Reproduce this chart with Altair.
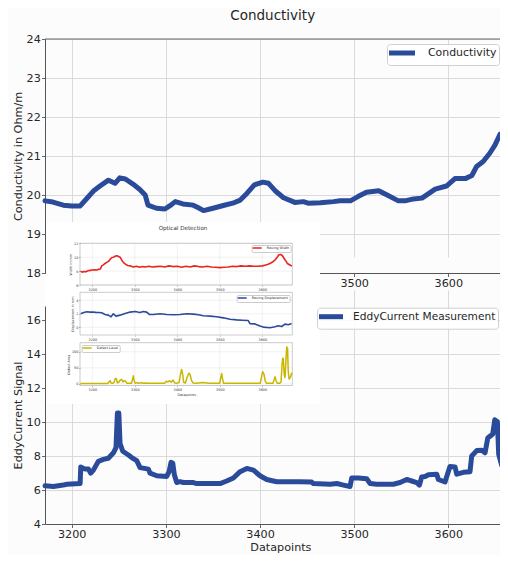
import altair as alt
import pandas as pd

# ---------------- data ----------------
cond_x = [3171.6, 3180, 3191, 3200, 3209, 3216, 3223, 3230, 3239, 3246, 3251, 3257, 3265, 3272, 3278,
          3281, 3290, 3299, 3304, 3310, 3318, 3329, 3334, 3340, 3350, 3361, 3371, 3379, 3386, 3394,
          3403, 3409, 3416, 3425, 3437, 3446, 3451, 3464, 3478, 3485, 3496, 3504, 3513, 3526, 3535,
          3547, 3554, 3563, 3572, 3586, 3598, 3607, 3618, 3625, 3630, 3637, 3644, 3649.5, 3655, 3659, 3663.4]
cond_y = [19.85, 19.82, 19.74, 19.72, 19.72, 19.91, 20.1, 20.23, 20.38, 20.3, 20.44, 20.41, 20.28, 20.15, 20.0,
          19.74, 19.66, 19.64, 19.72, 19.83, 19.77, 19.74, 19.68, 19.6, 19.66, 19.73, 19.79, 19.87, 20.04, 20.26,
          20.33, 20.3, 20.11, 19.93, 19.81, 19.83, 19.79, 19.8, 19.83, 19.85, 19.85, 19.96, 20.07, 20.11, 20.0,
          19.85, 19.85, 19.9, 19.92, 20.15, 20.23, 20.42, 20.42, 20.5, 20.73, 20.86, 21.07, 21.28, 21.56, 21.5, 21.37]

eddy_x = [3171.7, 3180.5, 3191, 3194.7, 3208.9, 3209.6, 3214.2, 3217.7, 3220.2, 3223, 3228.3, 3233.6, 3238.9,
          3244.3, 3247, 3248.5, 3250, 3251.3, 3254.2, 3260.2, 3263.7, 3269, 3272.6, 3281.4, 3283.2, 3290.3,
          3300.9, 3303.4, 3305.5, 3307.3, 3309, 3311.5, 3315, 3318.6, 3329.2, 3332.8, 3357.5, 3364.6, 3371.7,
          3378.8, 3385.9, 3393, 3400, 3407.1, 3417.7, 3431.9, 3442.5, 3454.9, 3456.7, 3474.4, 3481.5, 3488.6,
          3495.6, 3497.4, 3504.5, 3513.3, 3516.9, 3524, 3541.6, 3548.7, 3555.8, 3561.1, 3566.4, 3569.3, 3571.7,
          3575.3, 3578.8, 3587.7, 3589.4, 3596.5, 3598.3, 3601.8, 3607.1, 3608.9, 3616, 3623, 3624.8, 3630.2,
          3635.5, 3639, 3641.9, 3647.2, 3649.3, 3652.1, 3653.5, 3656.7, 3663.4]
eddy_y = [6.25, 6.21, 6.29, 6.34, 6.38, 7.36, 7.23, 7.23, 6.99, 7.17, 7.69, 7.8, 7.87,
          8.19, 8.5, 10.53, 10.53, 8.74, 8.28, 8.06, 7.91, 7.73, 7.32, 7.23, 6.99, 6.84,
          6.8, 7.08, 7.63, 7.58, 6.9, 6.44, 6.49, 6.44, 6.44, 6.38, 6.38, 6.53, 6.71,
          7.08, 7.27, 7.17, 6.84, 6.62, 6.49, 6.49, 6.49, 6.47, 6.38, 6.34, 6.38, 6.29,
          6.21, 6.71, 6.71, 6.66, 6.38, 6.34, 6.34, 6.44, 6.62, 6.53, 6.44, 6.29, 6.77,
          6.8, 6.9, 6.93, 6.62, 6.47, 6.8, 7.39, 7.36, 6.93, 7.04, 7.08, 8.0, 8.32,
          8.34, 8.19, 9.06, 9.3, 10.13, 10.03, 8.1, 7.45, 7.39]

width_x = [3172, 3176, 3180, 3185, 3190, 3195, 3200, 3205, 3210, 3215, 3219, 3222, 3226, 3230, 3234, 3238,
           3242, 3246, 3250, 3254, 3258, 3262, 3266, 3270, 3274, 3278, 3283, 3290, 3297, 3304, 3311, 3318,
           3325, 3333, 3341, 3350, 3360, 3370, 3380, 3390, 3400, 3410, 3420, 3430, 3440, 3450, 3460, 3470,
           3480, 3490, 3500, 3510, 3520, 3530, 3540, 3550, 3560, 3570, 3580, 3590, 3600, 3606, 3612, 3618,
           3624, 3630, 3635, 3639, 3643, 3647, 3651, 3655, 3659, 3663, 3667, 3670]
width_y = [8.0, 7.85, 7.95, 7.9, 8.05, 8.1, 8.15, 8.2, 8.15, 8.25, 8.3, 8.75, 8.9, 9.1, 9.25, 9.4,
           9.7, 9.95, 10.0, 10.15, 10.2, 10.1, 9.95, 9.5, 9.2, 9.0, 8.8, 8.75, 8.6, 8.7, 8.55, 8.65,
           8.6, 8.7, 8.6, 8.65, 8.7, 8.6, 8.75, 8.65, 8.7, 8.55, 8.7, 8.6, 8.75, 8.65, 8.6, 8.7,
           8.6, 8.55, 8.5, 8.55, 8.6, 8.7, 8.65, 8.75, 8.7, 8.75, 8.7, 8.7, 8.75, 8.85, 8.95, 9.1,
           9.3, 9.6, 10.0, 10.35, 10.4, 10.25, 9.85, 9.5, 9.1, 8.95, 8.8, 8.75]

disp_x = [3172.6, 3180, 3186.8, 3195, 3203, 3210.3, 3216, 3222, 3229.9, 3237.7, 3244, 3249.5, 3255.8, 3265.2,
          3277, 3288.7, 3300.5, 3312.2, 3320, 3327.9, 3334.2, 3343.6, 3359.3, 3375, 3390.7, 3406.3, 3422,
          3437.6, 3450, 3461.2, 3477, 3492.6, 3508.2, 3523.9, 3539.6, 3553, 3567, 3571, 3582.7, 3594.5,
          3602.3, 3618, 3629.8, 3637.6, 3645.5, 3653.3, 3661.2, 3669]
disp_y = [2.0, 2.2, 2.3, 2.25, 2.25, 2.2, 2.2, 2.15, 1.9, 1.8, 1.55, 2.0, 1.65, 1.8,
          2.05, 2.25, 2.35, 2.2, 2.35, 2.25, 1.9, 1.9, 2.0, 1.9, 1.85, 1.9, 2.0,
          1.95, 1.85, 1.7, 1.65, 1.55, 1.4, 1.2, 1.1, 1.05, 1.0, 0.55, 0.5, 0.2,
          0.03, -0.07, 0.08, 0.22, 0.12, 0.47, 0.37, 0.55]

defect_x = [3172, 3200, 3236, 3239, 3241.6, 3244, 3248, 3251, 3254, 3256.5, 3259, 3262, 3266, 3269, 3272,
            3275, 3278, 3281, 3292, 3294.5, 3296.5, 3298.5, 3301, 3306, 3309, 3315, 3318, 3326, 3330, 3345,
            3370, 3374, 3378, 3382, 3386, 3390, 3394, 3398, 3404, 3407.5, 3410, 3412.5, 3415, 3419, 3423,
            3427, 3430, 3433, 3437, 3445, 3460, 3475, 3500, 3502, 3504.4, 3506.5, 3509, 3540, 3570, 3595,
            3598, 3601, 3604, 3607, 3610, 3625, 3627.5, 3630, 3632.5, 3635, 3640, 3644, 3646.5, 3648,
            3649.5, 3651.5, 3653.5, 3655.5, 3657.5, 3659.5, 3661, 3663, 3666, 3669, 3670.6]
defect_y = [1, 1, 1, 6, 10, 3, 2, 4, 17, 16, 3, 5, 12, 14, 6,
            10, 9, 2, 2, 12, 25, 10, 2, 4, 2, 4, 2, 3, 2, 2,
            2, 8, 6, 10, 5, 12, 3, 2, 4, 30, 45, 30, 5, 3, 20,
            33, 30, 12, 3, 2, 4, 2, 2, 18, 32, 15, 2, 2, 2, 2,
            20, 38, 30, 8, 2, 2, 12, 22, 10, 2, 2, 5, 60, 80,
            78, 30, 20, 70, 115, 110, 40, 15, 20, 33, 30]

x_ticks = [3200, 3300, 3400, 3500, 3600]
cond_ticks = [18, 19, 20, 21, 22, 23, 24]
eddy_ticks = [4, 6, 8, 10, 12, 14, 16]
width_ticks = [6, 8, 10, 12]
disp_ticks = [0, 2, 4]
defect_ticks = [0, 50, 100]

# ---------------- layout / style ----------------
FONT = "DejaVu Sans"
BLUE = "#2a4b9a"
RED = "#e8251e"
YELLOW = "#c9b600"
TXT = "#262626"

LEFT, TOP = 45, 39          # page position of the plot-area origin
W = 455                     # plot area reaches the right edge of the page
BOTTOM = 524                # page y of the lower x axis
H = BOTTOM - TOP
PX_PER_X = 0.9415


def gx(px):
    return px - LEFT


def gy(py):
    return py - TOP


X_DOM = [3171.6, 3171.6 + W / PX_PER_X]
main_x = alt.Scale(domain=X_DOM, range=[0, W], nice=False, zero=False)
top_y = alt.Scale(domain=[18, 24], range=[gy(273), gy(39)], nice=False, zero=False)
bot_y = alt.Scale(domain=[4, 16.83], range=[gy(BOTTOM), gy(306)], nice=False, zero=False)

IX_DOM = [3171, 3670.6]
inset_x = alt.Scale(domain=IX_DOM, range=[gx(80), gx(292.3)], nice=False, zero=False)


def main_axis(orient, offset, values, title, **kw):
    return alt.Axis(orient=orient, offset=offset, values=values, title=title, grid=True, format="d",
                    gridColor="#d6d6d6", gridWidth=0.9, domainColor="#555", domainWidth=1,
                    tickColor="#555", tickSize=3.5, tickWidth=0.9, labelFont=FONT,
                    labelFontSize=11.2, labelColor=TXT, labelPadding=1.2, labelFlush=False,
                    titleFont=FONT, titleFontSize=11.2, titleColor=TXT, titleFontWeight="normal",
                    **kw)


def inset_axis(orient, offset, values, title):
    kw = dict(orient=orient, offset=offset, values=values, grid=False, domain=False, format="d",
              tickColor="#555", tickSize=1.3, tickWidth=0.4, labelFont=FONT, labelFontSize=3.4,
              labelColor="#333", labelPadding=0.8, labelFlush=False, zindex=1)
    if title is None:
        kw["title"] = None
    else:
        kw.update(title=title, titleFont=FONT, titleFontSize=3.4, titleColor="#333",
                  titleFontWeight="normal", titlePadding=1.2)
    return alt.Axis(**kw)


def legend(x, y, length, height, gap, pad, font_size, stroke_w, radius, fill, stroke):
    sq = height - stroke_w
    k = length / sq
    return alt.Legend(orient="none", legendX=x, legendY=y, title=None,
                      symbolType=f"M-{k:.3f},0H{k:.3f}", symbolSize=sq * sq,
                      symbolOffset=length / 2 - height / 2, symbolStrokeWidth=stroke_w,
                      labelOffset=length + gap - height, labelFont=FONT, labelFontSize=font_size,
                      labelColor=TXT, padding=pad, fillColor=fill, strokeColor=stroke,
                      cornerRadius=radius)


blank = alt.Data(values=[{}])
layers = []

# ---------------- main panels ----------------
cond_df = pd.DataFrame({"x": cond_x, "y": cond_y, "s": "Conductivity"})
layers.append(alt.Chart(cond_df).mark_line(strokeWidth=5, strokeJoin="round", strokeCap="round").encode(
    x=alt.X("x:Q", scale=main_x,
            axis=main_axis("bottom", gy(273) - H, x_ticks, None,
                           labelExpr="datum.value > 3450 ? datum.label : ''")),
    y=alt.Y("y:Q", scale=top_y, axis=main_axis("left", 0, cond_ticks, "Conductivity in Ohm/m",
                                                titlePadding=3)),
    color=alt.Color("s:N", scale=alt.Scale(domain=["Conductivity"], range=[BLUE]),
                    legend=legend(gx(387), gy(44), 26, 14, 7, 2, 10.9, 5, 3,
                                  "rgba(255,255,255,0.85)", "#d0d0d0")),
))
layers.append(alt.Chart(blank).mark_rule(color="#666", strokeWidth=1).encode(
    x=alt.XDatum(X_DOM[0], type="quantitative", scale=main_x, axis=None),
    x2=alt.X2Datum(X_DOM[1]),
    y=alt.YDatum(24, type="quantitative", scale=top_y, axis=None),
))

eddy_df = pd.DataFrame({"x": eddy_x, "y": eddy_y, "s": "EddyCurrent Measurement"})
layers.append(alt.Chart(eddy_df).mark_line(strokeWidth=5, strokeJoin="round", strokeCap="round").encode(
    x=alt.X("x:Q", scale=main_x, axis=main_axis("bottom", 0, x_ticks, "Datapoints",
                                                titlePadding=1.5, titleX=235.4)),
    y=alt.Y("y:Q", scale=bot_y, axis=main_axis("left", 0, eddy_ticks, "EddyCurrent Signal",
                                               titlePadding=3)),
    color=alt.Color("s:N", scale=alt.Scale(domain=["EddyCurrent Measurement"], range=[BLUE]),
                    legend=legend(gx(317), gy(307.7), 24, 14, 5, 2, 10.6, 5, 3,
                                  "rgba(255,255,255,0.85)", "#d0d0d0")),
))

# chart title
layers.append(alt.Chart(alt.Data(values=[{"t": "Conductivity"}])).mark_text(
    font=FONT, fontSize=13.5, color=TXT, align="center", baseline="middle").encode(
    text="t:N", x=alt.value(gx(272.7)), y=alt.value(gy(16))))

# ---------------- inset "Optical Detection" ----------------
layers.append(alt.Chart(blank).mark_rect(fill="#ffffff").encode(
    x=alt.value(gx(46)), x2=alt.value(gx(320)), y=alt.value(gy(222)), y2=alt.value(gy(404))))

layers.append(alt.Chart(alt.Data(values=[{"t": "Optical Detection"}])).mark_text(
    font=FONT, fontSize=5.6, color="#333", align="center", baseline="middle").encode(
    text="t:N", x=alt.value(gx(183)), y=alt.value(gy(227.7))))


def inset(xs, ys, name, color, ydom, yrange_px, yticks, ytitle, leg_pos, leg_len, xtitle=None, sw=1.6):
    ysc = alt.Scale(domain=ydom, range=[gy(yrange_px[0]), gy(yrange_px[1])], nice=False, zero=False)
    df = pd.DataFrame({"x": xs, "y": ys, "s": name})
    vgrid = alt.Chart(pd.DataFrame({"v": x_ticks})).mark_rule(color="#e3e3e3", strokeWidth=0.5).encode(
        x=alt.X("v:Q", scale=inset_x, axis=None),
        y=alt.YDatum(ydom[0], type="quantitative", scale=ysc, axis=None),
        y2=alt.Y2Datum(ydom[1]))
    hgrid = alt.Chart(pd.DataFrame({"h": yticks})).mark_rule(color="#e3e3e3", strokeWidth=0.5).encode(
        y=alt.Y("h:Q", scale=ysc, axis=None),
        x=alt.XDatum(IX_DOM[0], type="quantitative", scale=inset_x, axis=None),
        x2=alt.X2Datum(IX_DOM[1]))
    line = alt.Chart(df).mark_line(strokeWidth=sw, strokeJoin="round").encode(
        x=alt.X("x:Q", scale=inset_x, axis=inset_axis("bottom", gy(yrange_px[0]) - H, x_ticks, xtitle)),
        y=alt.Y("y:Q", scale=ysc, axis=inset_axis("left", -gx(80), yticks, ytitle)),
        color=alt.Color("s:N", scale=alt.Scale(domain=[name], range=[color]),
                        legend=legend(gx(leg_pos[0]), gy(leg_pos[1]), leg_len, 4, 2.6, 1, 3.4, 1.5, 1,
                                      "#ffffff", "#cccccc")),
    )
    frame = alt.Chart(blank).mark_rect(fillOpacity=0, stroke="#a8a8a8", strokeWidth=0.6).encode(
        x=alt.XDatum(IX_DOM[0], type="quantitative", scale=inset_x, axis=None),
        x2=alt.X2Datum(IX_DOM[1]),
        y=alt.YDatum(ydom[0], type="quantitative", scale=ysc, axis=None),
        y2=alt.Y2Datum(ydom[1]))
    return [vgrid, hgrid, line, frame]


layers += inset(width_x, width_y, "Roving Width", RED, [6, 12], (285, 243.3), width_ticks,
                "Width in mm", (251.7, 245), 9)
layers += inset(disp_x, disp_y, "Roving Displacement", BLUE, [-1.14, 5.18], (335, 292.3), disp_ticks,
                "Displacement in mm", (236.7, 295), 9)
layers += inset(defect_x, defect_y, "Defect Level", YELLOW, [-5, 128], (385.5, 342.7), defect_ticks,
                "Defect Area", (81.7, 345), 9, xtitle="Datapoints", sw=1.5)

chart = alt.layer(*layers).resolve_scale(
    x="independent", y="independent", color="independent"
).properties(
    width=W, height=H,
    autosize=alt.AutoSizeParams(type="none"),
    padding={"left": 37, "top": 31, "right": 0, "bottom": 547 - 31 - H},
).configure(
    background="#fcfcfc",
).configure_view(stroke=None)

chart.save("out.html", embed_options={"renderer": "svg", "actions": False})
